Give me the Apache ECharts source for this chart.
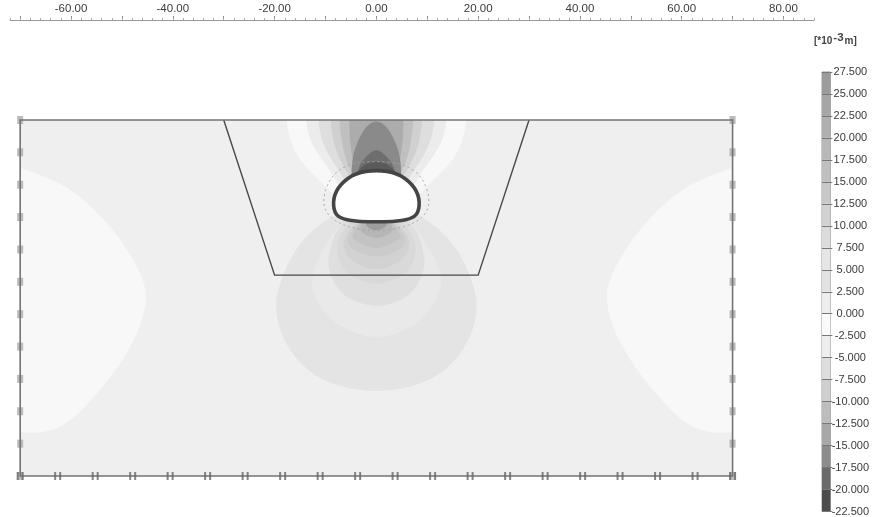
<!DOCTYPE html>
<html><head><meta charset="utf-8">
<style>html,body{margin:0;padding:0;background:#fff}#c{width:872px;height:517px;filter:blur(0.45px)}</style>
<script src="https://cdn.jsdelivr.net/npm/echarts@6/dist/echarts.min.js"></script>
</head><body><div id="c"></div>
<script>
// tick labels
const xMajorTicks = [-70,-60,-50,-40,-30,-20,-10,0,10,20,30,40,50,60,70,80];
const xLabelTicks = [-60,-40,-20,0,20,40,60,80];
const legendLevels = [27.5,25,22.5,20,17.5,15,12.5,10,7.5,5,2.5,0,-2.5,-5,-7.5,-10,-12.5,-15,-17.5,-20,-22.5];
// model geometry (metres)
const modelBox = [[-70,0],[70,0],[70,-70],[-70,-70]];
const excavation = [[-30,0],[-20,-30.5],[20,-30.5],[30,0]];
const tunnelLining = [[0,-9.8],[-4.1,-10.4],[-7.1,-12.6],[-8.5,-15.3],[-8.3,-18.3],[-6.7,-19.5],[-3.1,-20],[0,-20],[3.1,-20],[6.7,-19.5],[8.3,-18.3],[8.5,-15.3],[7.1,-12.6],[4.1,-10.4]];
const tunnelZone = [[0,-8.1],[-5.1,-8.5],[-8.8,-10.8],[-10.6,-15.3],[-9.8,-18.7],[-6.1,-21],[0,-22],[6.1,-21],[9.8,-18.7],[10.6,-15.3],[8.8,-10.8],[5.1,-8.5]];
const supportsSide = [0,-6.36,-12.73,-19.09,-25.45,-31.82,-38.18,-44.55,-50.91,-57.27,-63.64,-70];
const supportsBottom = [-70,-62.63,-55.26,-47.89,-40.53,-33.16,-25.79,-18.42,-11.05,-3.68,3.68,11.05,18.42,25.79,33.16,40.53,47.89,55.26,62.63,70];
// displacement contours (metres)
const lobeLeft = [[-70,-9.4],[-63.1,-11.8],[-57.2,-15.7],[-51.3,-22],[-47.4,-27.9],[-45,-33.4],[-45.8,-39.3],[-48.8,-45.6],[-53.3,-52.1],[-61.1,-60.5],[-68,-61.8],[-70,-61.3]];
const lobeRight = [[70,-9.4],[63.1,-11.8],[57.2,-15.7],[51.3,-22],[47.4,-27.9],[45,-33.4],[45.8,-39.3],[48.8,-45.6],[53.3,-52.1],[61.1,-60.5],[68,-61.8],[70,-61.3]];
const lowA = [[-8.1,-18.7],[-10.6,-20.1],[-14,-23],[-16.9,-27.1],[-19.1,-32.4],[-19.9,-36.4],[-19.1,-41.3],[-16.5,-46.2],[-12,-50.5],[-6.1,-52.7],[0,-53.5],[6.1,-52.7],[12,-50.5],[16.5,-46.2],[19.1,-41.3],[19.9,-36.4],[19.1,-32.4],[16.9,-27.1],[14,-23],[10.6,-20.1],[8.1,-18.7]];
const lowB = [[-6.1,-19.3],[-8.1,-21.6],[-10.6,-25.6],[-12.4,-29.5],[-12.8,-32.8],[-11,-37],[-7.1,-40.9],[0,-43.3],[7.1,-40.9],[11,-37],[12.8,-32.8],[12.6,-29.5],[10.6,-25.6],[8.1,-21.6],[6.1,-19.3]];
const lowC = [[-6.1,-19.3],[-8.1,-22],[-9.2,-25.6],[-9.6,-28.5],[-8.5,-32],[-5.7,-35.2],[0,-37],[5.7,-35.2],[8.5,-32],[9.6,-28.5],[9.2,-25.6],[8.1,-22],[6.1,-19.3]];
const lowD = [[-5.1,-19.7],[-6.7,-22],[-7.9,-24.6],[-7.5,-27.5],[-5.7,-30.5],[0,-32.8],[5.7,-30.5],[7.5,-27.5],[7.9,-24.6],[6.7,-22],[5.1,-19.7]];
const lowE = [[-4.1,-20.1],[-5.7,-22],[-6.6,-24],[-6.1,-26.3],[-4.1,-28.3],[0,-29.7],[4.1,-28.3],[6.1,-26.3],[6.6,-24],[5.7,-22],[4.1,-20.1]];
const lowF = [[-3.5,-20.1],[-5.1,-22],[-5.9,-23.6],[-4.7,-25.6],[0,-27.3],[4.7,-25.6],[5.9,-23.6],[5.1,-22],[3.5,-20.1]];
const lowG = [[-3.1,-20.1],[-4.5,-22],[-4.9,-23.2],[-3.1,-24.4],[0,-25.4],[3.1,-24.4],[4.9,-23.2],[4.5,-22],[3.1,-20.1]];
const lowH = [[-2.8,-20.1],[-3.5,-21.6],[-2.2,-22.6],[0,-23.4],[2.2,-22.6],[3.5,-21.6],[2.8,-20.1]];
const lowI = [[-2,-19.7],[-2.4,-20.8],[0,-22],[2.4,-20.8],[2,-19.7]];
const lowJ = [[-3.1,-19.5],[0,-20.8],[3.1,-19.5]];
const upA = [[-17.7,0],[-17.5,-2],[-16.3,-5.9],[-14,-9.2],[-10.4,-12.6],[-7.5,-15.7],[7.5,-15.7],[10.4,-12.6],[14,-9.2],[16.3,-5.9],[17.5,-2],[17.7,0]];
const upB = [[-13.8,0],[-13.6,-2],[-12.6,-4.9],[-10.6,-7.9],[-8.5,-10.8],[-6.4,-14.7],[6.4,-14.7],[8.5,-10.8],[10.6,-7.9],[12.6,-4.9],[13.6,-2],[13.8,0]];
const upC = [[-11.4,0],[-11.2,-2],[-10.4,-4.9],[-8.8,-7.9],[-7.1,-10.2],[-5.2,-13.8],[5.2,-13.8],[7.1,-10.2],[8.8,-7.9],[10.4,-4.9],[11.2,-2],[11.4,0]];
const upD = [[-9,0],[-8.8,-2],[-8.3,-4.9],[-7.3,-7.5],[-6.1,-9.8],[-4.2,-12.8],[4.2,-12.8],[6.1,-9.8],[7.3,-7.5],[8.3,-4.9],[8.8,-2],[9,0]];
const upE = [[-7.3,0],[-7.1,-2],[-6.7,-4.9],[-6.1,-7.3],[-5.3,-9.4],[-3.8,-12.2],[3.8,-12.2],[5.3,-9.4],[6.1,-7.3],[6.7,-4.9],[7.1,-2],[7.3,0]];
const upF = [[-5.3,0],[-5.3,-2],[-5.1,-4.9],[-4.7,-7.5],[-4.5,-9.4],[-3.4,-11.8],[3.4,-11.8],[4.5,-9.4],[4.7,-7.5],[5.1,-4.9],[5.3,-2],[5.3,0]];
const upG = [[-4.9,-11.8],[-4.9,-9.8],[-4.6,-6.9],[-3.6,-3.9],[-2,-1.2],[0,0],[2,-1.2],[3.6,-3.9],[4.6,-6.9],[4.9,-9.8],[4.9,-11.8]];
const upH = [[-4,-11.4],[-3.4,-8.8],[-1.9,-7],[0,-5.6],[1.9,-7],[3.4,-8.8],[4,-11.4]];
const upI = [[-4,-10.8],[-3.2,-9.1],[0,-7.9],[3.2,-9.1],[4,-10.8]];

// styles
const bandColors = ['#9c9c9c','#a6a6a6','#b0b0b0','#b8b8b8','#bfbfbf','#c8c8c8','#d2d2d2','#dcdcdc','#e6e6e6','#e2e2e2','#eeeeee','#fafafa','#eeeeee','#dedede','#cfcfcf','#bdbdbd','#a8a8a8','#8c8c8c','#6a6a6a','#4c4c4c'];
const contours = [
 [modelBox,'#efefef',false],[lobeLeft,'#f8f8f8'],[lobeRight,'#f8f8f8'],
 [lowA,'#e4e4e4'],[lowB,'#e9e9e9'],[lowC,'#dfdfdf'],[lowD,'#d9d9d9'],[lowE,'#d2d2d2'],[lowF,'#cbcbcb'],[lowG,'#c3c3c3'],[lowH,'#b6b6b6'],[lowI,'#9e9e9e'],[lowJ,'#6e6e6e'],
 [upA,'#f8f8f8'],[upB,'#ececec'],[upC,'#dedede'],[upD,'#d0d0d0'],[upE,'#c0c0c0'],[upF,'#acacac'],[upG,'#8a8a8a'],[upH,'#6e6e6e'],[upI,'#5a5a5a']
];
function toPath(px, closedSmooth){
  const mid=(a,b)=>[(a[0]+b[0])/2,(a[1]+b[1])/2];
  let d='';
  if(closedSmooth){
    const n=px.length, s=mid(px[n-1],px[0]);
    d='M'+s[0]+' '+s[1];
    for(let i=0;i<n;i++){const m=mid(px[i],px[(i+1)%n]);d+='Q'+px[i][0]+' '+px[i][1]+' '+m[0]+' '+m[1];}
    return d+'Z';
  }
  d='M'+px[0][0]+' '+px[0][1];
  for(let i=1;i<px.length-1;i++){
    const m=i<px.length-2?mid(px[i],px[i+1]):px[i+1];
    d+='Q'+px[i][0]+' '+px[i][1]+' '+m[0]+' '+m[1];
  }
  return d+'Z';
}
const polyShape=(api,pts)=>pts.map(p=>api.coord(p));
const chart=echarts.init(document.getElementById('c'),null,{width:872,height:517,renderer:'canvas'});
const font='"Liberation Sans",Arial,sans-serif';
chart.setOption({
 animation:false,backgroundColor:'#fff',
 title:{text:'{a|[*10}{b|-3}{a|m]}',left:809,top:26,textStyle:{rich:{a:{fontSize:10,color:'#444',fontFamily:font,padding:[5,0,0,0]},b:{fontSize:11.5,color:'#444',fontFamily:font,padding:[0,1,2,1]}}}},
 grid:[{left:10,top:20,width:804,height:496.7},{show:true,backgroundColor:'transparent',borderColor:'#999',borderWidth:1,left:822,top:72,width:10,height:439.7}],
 xAxis:[
  {gridIndex:0,type:'value',position:'top',min:-72,max:86,interval:2,
   axisLine:{show:true,onZero:false,lineStyle:{color:'#999',width:1}},
   axisTick:{show:true,length:4,inside:false,customValues:xMajorTicks,lineStyle:{color:'#888'}},
   axisLabel:{show:true,customValues:xLabelTicks,margin:5,fontSize:11.5,color:'#3a3a3a',fontFamily:font,formatter:v=>v.toFixed(2)},
   splitLine:{show:false}},
  {gridIndex:0,type:'value',position:'top',min:-72,max:86,interval:2,
   axisLine:{show:false,onZero:false},axisTick:{show:true,length:2,lineStyle:{color:'#aaa'}},axisLabel:{show:false},splitLine:{show:false}},
  {gridIndex:1,type:'value',min:0,max:1,show:false}
 ],
 yAxis:[
  {gridIndex:0,type:'value',min:-78,max:19.66,show:false},
  {gridIndex:1,type:'value',position:'right',min:-22.5,max:27.5,interval:2.5,
   axisLine:{show:false,onZero:false},
   axisTick:{show:true,length:2,lineStyle:{color:'#777'}},
   axisLabel:{show:true,margin:20,align:'center',fontSize:11,color:'#3a3a3a',fontFamily:font,formatter:v=>v.toFixed(3)},
   splitLine:{show:true,lineStyle:{color:'#777',width:1}},z:5}
 ],
 series:[
  {type:'custom',xAxisIndex:0,yAxisIndex:0,silent:true,clip:false,z:2,data:contours.map((c,i)=>[i]),
   renderItem:(p,api)=>{const c=contours[api.value(0)];const px=polyShape(api,c[0]);
     if(c[2]===false)return {type:'polygon',shape:{points:px},style:{fill:c[1]}};
     return {type:'path',shape:{pathData:toPath(px,false)},style:{fill:c[1]}};}},
  {type:'custom',xAxisIndex:0,yAxisIndex:0,silent:true,clip:false,z:3,data:[[0]],
   renderItem:(p,api)=>({type:'group',children:[
     {type:'path',shape:{pathData:toPath(polyShape(api,tunnelZone),true)},style:{fill:'none',stroke:'#a5a5a5',lineWidth:1,lineDash:[2,3]}},
     {type:'path',shape:{pathData:toPath(polyShape(api,tunnelLining),true)},style:{fill:'#fff',stroke:'#454545',lineWidth:3.6}}
   ]})},
  {type:'scatter',xAxisIndex:0,yAxisIndex:0,silent:true,clip:false,z:3,symbol:'rect',symbolSize:[6,8],itemStyle:{color:'#aaaaaa'},
   data:supportsSide.map(y=>[-70,y]).concat(supportsSide.map(y=>[70,y]))},
  {type:'custom',xAxisIndex:0,yAxisIndex:0,silent:true,clip:false,z:4,data:[[0]],
   renderItem:(p,api)=>({type:'group',children:[
     {type:'polyline',shape:{points:polyShape(api,excavation)},style:{fill:'none',stroke:'#484848',lineWidth:1.4}},
     {type:'polygon',shape:{points:polyShape(api,modelBox)},style:{fill:'none',stroke:'#747474',lineWidth:1.6}}
   ]})},
  {type:'scatter',xAxisIndex:0,yAxisIndex:0,silent:true,clip:false,z:5,symbol:'path://M0 0H2V10H0ZM5 0H7V10H5Z',symbolKeepAspect:false,symbolSize:[7,8],itemStyle:{color:'#666'},
   data:supportsBottom.map(x=>[x,-70])},
  {type:'custom',xAxisIndex:2,yAxisIndex:1,silent:true,clip:false,z:2,data:bandColors.map((c,i)=>[i]),
   renderItem:(p,api)=>{const i=api.value(0);const a=api.coord([0,legendLevels[i]]),b=api.coord([1,legendLevels[i+1]]);
     return {type:'rect',shape:{x:a[0],y:a[1],width:b[0]-a[0],height:b[1]-a[1]},style:{fill:bandColors[i]}};}}
 ]
});
</script></body></html>
